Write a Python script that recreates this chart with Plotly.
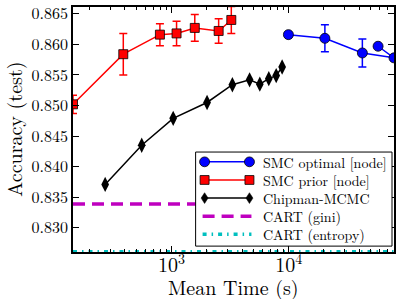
import math
import plotly.graph_objects as go

# ---- data ----
smc_opt_time = [9943, 20370, 42550, 79250, 57950]
smc_opt_acc = [0.8616, 0.8610, 0.8586, 0.8578, 0.8597]
smc_opt_err = [0.0, 0.0022, 0.0023, 0.0, 0.0]

smc_prior_time = [144, 387, 795, 1103, 1578, 2523, 3236]
smc_prior_acc = [0.8502, 0.8584, 0.8616, 0.8618, 0.8627, 0.8622, 0.8640]
smc_prior_err = [0.0015, 0.0034, 0.0018, 0.0020, 0.0022, 0.0020, 0.0022]

chip_time = [271, 556, 1032, 2009, 3304, 4636, 5665, 6761, 7819, 8789]
chip_acc = [0.8371, 0.8435, 0.8479, 0.8505, 0.8534, 0.8542, 0.8535, 0.8544, 0.8549, 0.8563]

cart_gini = 0.8339
cart_entropy = 0.8261

x_range = [144, 79250]
y_range = [0.82604, 0.86612]
y_ticks = [0.830, 0.835, 0.840, 0.845, 0.850, 0.855, 0.860, 0.865]

legend_names = ["SMC optimal [node]", "SMC prior [node]", "Chipman-MCMC",
                "CART (gini)", "CART (entropy)"]
x_title = "Mean Time (s)"
y_title = "Accuracy (test)"

FONT = "Latin Modern Roman"
BLUE, RED, MAG, CYAN = "#0000ff", "#ff0000", "#bf00bf", "#00bfbf"

W, H = 398, 299
ML, MR, MT, MB = 73, 3, 2, 47
PW, PH = W - ML - MR, H - MT - MB

fig = go.Figure()

fig.add_trace(go.Scatter(
    x=smc_opt_time, y=smc_opt_acc, mode="lines+markers", name=legend_names[0],
    line=dict(color=BLUE, width=1.5),
    marker=dict(symbol="circle", size=10, color=BLUE, line=dict(color="black", width=0.8)),
    error_y=dict(type="data", array=smc_opt_err, visible=True, color=BLUE, thickness=1.5, width=4),
))
fig.add_trace(go.Scatter(
    x=smc_prior_time, y=smc_prior_acc, mode="lines+markers", name=legend_names[1],
    line=dict(color=RED, width=1.5),
    marker=dict(symbol="square", size=9, color=RED, line=dict(color="black", width=0.8)),
    error_y=dict(type="data", array=smc_prior_err, visible=True, color=RED, thickness=1.5, width=4),
))
fig.add_trace(go.Scatter(
    x=chip_time, y=chip_acc, mode="lines+markers", name=legend_names[2],
    line=dict(color="black", width=1.5),
    marker=dict(symbol="diamond-tall", size=11, color="black"),
))
fig.add_trace(go.Scatter(
    x=x_range, y=[cart_gini, cart_gini], mode="lines", name=legend_names[3],
    line=dict(color=MAG, width=3.5, dash="12px,7px"),
))
fig.add_trace(go.Scatter(
    x=x_range, y=[cart_entropy, cart_entropy], mode="lines", name=legend_names[4],
    line=dict(color=CYAN, width=3.5, dash="4px,5px,1.5px,5px"),
))

# ---- legend drawn by hand (matplotlib style: marker at both ends) ----
def px(xp):
    return (xp - ML) / PW

def py(yp):
    return (H - MB - yp) / PH

shapes = []
annotations = []
shapes.append(dict(type="rect", xref="paper", yref="paper",
                   x0=px(196), x1=px(393), y0=py(246), y1=py(150),
                   line=dict(color="black", width=1), fillcolor="white", layer="above"))
row_y = [160, 178.5, 197, 215.5, 234]
lx0, lx1, tx = 205, 250, 263
styles = [
    dict(color=BLUE, width=1.5, dash="solid"),
    dict(color=RED, width=1.5, dash="solid"),
    dict(color="black", width=1.5, dash="solid"),
    dict(color=MAG, width=3.5, dash="12px,7px"),
    dict(color=CYAN, width=3.5, dash="4px,5px,1.5px,5px"),
]
for i, (name, st) in enumerate(zip(legend_names, styles)):
    yy = row_y[i]
    sx0, sx1 = (lx0, lx1) if i < 3 else (lx0 - 2, lx1 + 2)
    shapes.append(dict(type="line", xref="paper", yref="paper",
                       x0=px(sx0), x1=px(sx1), y0=py(yy), y1=py(yy),
                       line=st, layer="above"))
    for cx in (lx0, lx1):
        if i == 0:
            r = 5
            shapes.append(dict(type="circle", xref="paper", yref="paper",
                               x0=px(cx - r), x1=px(cx + r), y0=py(yy + r), y1=py(yy - r),
                               fillcolor=BLUE, line=dict(color="black", width=0.8), layer="above"))
        elif i == 1:
            r = 4.5
            shapes.append(dict(type="rect", xref="paper", yref="paper",
                               x0=px(cx - r), x1=px(cx + r), y0=py(yy + r), y1=py(yy - r),
                               fillcolor=RED, line=dict(color="black", width=0.8), layer="above"))
        elif i == 2:
            hw, hh = 3.5, 5.5
            path = "M {a},{b} L {c},{d} L {e},{f} L {g},{h} Z".format(
                a=px(cx), b=py(yy - hh), c=px(cx + hw), d=py(yy),
                e=px(cx), f=py(yy + hh), g=px(cx - hw), h=py(yy))
            shapes.append(dict(type="path", xref="paper", yref="paper", path=path,
                               fillcolor="black", line=dict(color="black", width=0.5), layer="above"))
    annotations.append(dict(xref="paper", yref="paper", x=px(tx), y=py(yy),
                            xanchor="left", yanchor="middle", showarrow=False, borderpad=0,
                            text=name, font=dict(family=FONT, size=14, color="black")))

# axis titles placed as in the reference
annotations.append(dict(xref="paper", yref="paper", x=px(234), y=py(287),
                        xanchor="center", yanchor="middle", showarrow=False, borderpad=0,
                        text=x_title, font=dict(family=FONT, size=20, color="black")))
annotations.append(dict(xref="paper", yref="paper", x=px(13), y=py(127),
                        xanchor="center", yanchor="middle", showarrow=False, textangle=-90,
                        borderpad=0, text=y_title, font=dict(family=FONT, size=20, color="black")))

fig.update_layout(
    width=W, height=H,
    margin=dict(l=ML, r=MR, t=MT, b=MB),
    paper_bgcolor="white", plot_bgcolor="white",
    font=dict(family=FONT, size=16, color="black"),
    showlegend=False,
    shapes=shapes, annotations=annotations,
)
fig.update_xaxes(
    type="log", range=[math.log10(v) for v in x_range],
    showgrid=False, zeroline=False,
    showline=True, linecolor="black", linewidth=1.5, mirror="allticks",
    ticks="inside", ticklen=6, tickcolor="black", tickwidth=1,
    dtick=1, exponentformat="power", tickfont=dict(family=FONT, size=16),
    ticklabeloverflow="allow", ticklabelstandoff=-5,
    minor=dict(ticks="inside", ticklen=3, tickcolor="black", tickwidth=1, showgrid=False),
)
fig.update_yaxes(
    range=y_range, showgrid=False, zeroline=False,
    showline=True, linecolor="black", linewidth=1.5, mirror="allticks",
    ticks="inside", ticklen=6, tickcolor="black", tickwidth=1,
    tickvals=y_ticks, ticktext=["%.3f" % v for v in y_ticks],
    tickfont=dict(family=FONT, size=16), ticklabeloverflow="allow",
)

fig.write_html("out.html", config={"displayModeBar": False},
               post_script="document.body.style.margin='0px';")
